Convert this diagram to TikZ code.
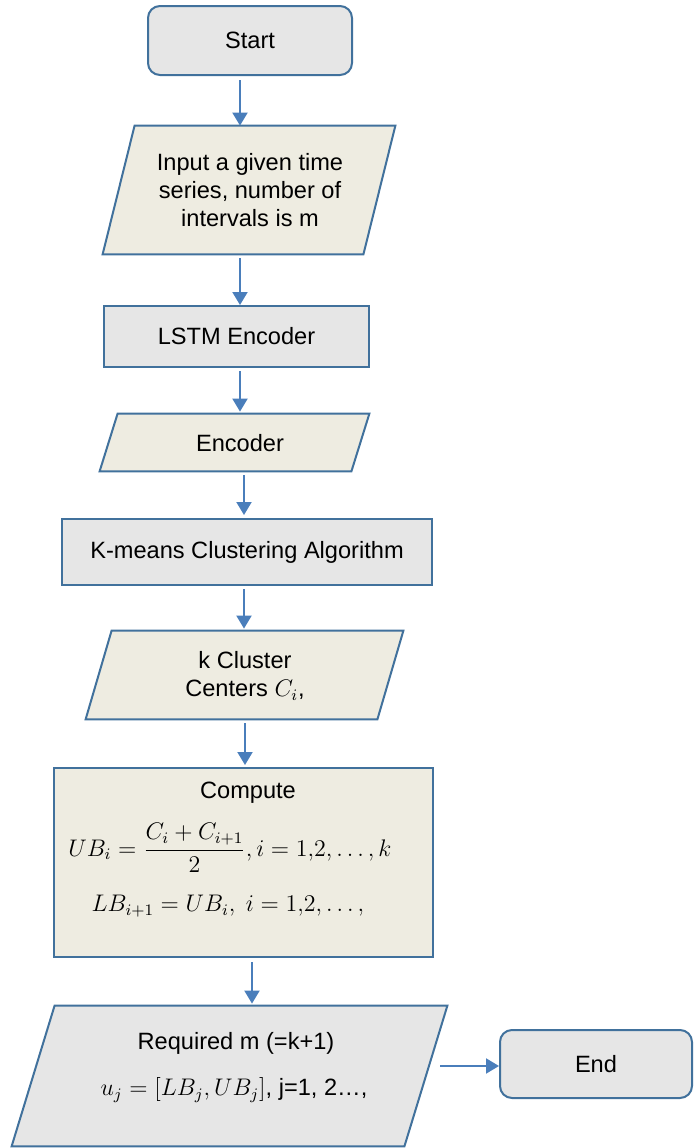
\documentclass[tikz,border=0pt]{standalone}
\usepackage{amsmath}
\usepackage[no-math]{fontspec}
\setmainfont{Liberation Sans}
\usetikzlibrary{arrows.meta,calc}
\definecolor{edge}{HTML}{41719C}
\definecolor{flow}{HTML}{4A7EBB}
\definecolor{greyfill}{HTML}{E6E6E6}
\definecolor{tanfill}{HTML}{EEECE1}
\tikzset{
  base/.style={inner sep=0pt, align=center, font=\fontsize{11.8}{14}\selectfont},
  term/.style={base, draw=edge, line width=1pt, fill=greyfill, rounded corners=6pt},
  proc/.style={base, draw=edge, line width=1pt},
  iobox/.style={base},
  para/.style={draw=edge, line width=1pt},
  arr/.style={draw=flow, line width=1pt, -{Triangle[length=6.5pt,width=7.5pt]}},
  lbl/.style={base}
}
% parallelogram around a node: #1 node name, #2 slant (px), #3 fill
\newcommand{\slantbox}[3]{%
  \path[para,fill=#3] (#1.south west) -- ([xshift=#2*0.5pt]#1.north west)
     -- (#1.north east) -- ([xshift=-#2*0.5pt]#1.south east) -- cycle;}
\begin{document}
\begin{tikzpicture}[x=0.5pt,y=-0.5pt]
\useasboundingbox (0,0) rectangle (693,1148);

% terminals and process boxes
\node[term, minimum width=102pt, minimum height=34.5pt] (start) at (250,40.5) {Start};
\node[proc, fill=greyfill, minimum width=132.5pt, minimum height=30.5pt] (lstm) at (236.5,336.5) {LSTM Encoder};
\node[proc, fill=greyfill, minimum width=185pt, minimum height=33pt] (kmeans) at (247,552) {K-means Clustering Algorithm};
\node[proc, fill=tanfill, minimum width=189.5pt, minimum height=94.5pt] (compute) at (243.5,862.5) {};
\node[term, minimum width=96pt, minimum height=34pt] (end) at (596,1064) {End};

% input / output boxes
\node[iobox, minimum width=146pt, minimum height=64pt] (input) at (249,190) {};
\slantbox{input}{32}{tanfill}
\node[lbl] (inputtxt) at (250,190) {Input a given time\\series, number of\\intervals is m};

\node[iobox, minimum width=134.5pt, minimum height=28.5pt] (enc) at (234.5,442.5) {};
\slantbox{enc}{18}{tanfill}
\node[lbl] (enctxt) at (240,443) {Encoder};

\node[iobox, minimum width=158.5pt, minimum height=44pt] (clus) at (244.5,675) {};
\slantbox{clus}{26}{tanfill}
\node[lbl] (clustxt) at (245,676) {k Cluster\\Centers $C_i$,};

\node[iobox, minimum width=217.5pt, minimum height=70pt] (req) at (229.5,1076) {};
\slantbox{req}{43}{greyfill}
\node[lbl] (reqa) at (236,1043) {Required m (=k+1)};
\node[lbl] (reqb) at (234,1090) {$u_j = [LB_j, UB_j]$, j=1, 2…,};

% contents of the compute box
\node[lbl] (comp0) at (248,793) {Compute};
\node[lbl] (comp1) at (230,848) {$UB_i = \dfrac{C_i + C_{i+1}}{2}, i = 1{,}2, \ldots, k$};
\node[lbl] (comp2) at (228,906) {$LB_{i+1} = UB_i,\; i = 1{,}2, \ldots,$};

% flow connectors
\draw[arr, shorten <=2pt] (start.south -| 240,0) -- (input.north -| 240,0);
\draw[arr, shorten <=2pt] (input.south -| 240,0) -- (lstm.north -| 240,0);
\draw[arr, shorten <=1.5pt] (lstm.south -| 240,0) -- ([yshift=1pt]enc.north -| 240,0);
\draw[arr, shorten <=2pt] (enc.south -| 244,0) -- ([yshift=1.5pt]kmeans.north -| 244,0);
\draw[arr, shorten <=1.5pt] (kmeans.south -| 244,0) -- ([yshift=1pt]clus.north -| 244,0);
\draw[arr, shorten <=2pt] (clus.south -| 245,0) -- ([yshift=1pt]compute.north -| 245,0);
\draw[arr, shorten <=2pt] (compute.south -| 252,0) -- ([yshift=1pt]req.north -| 252,0);
\coordinate (reqout) at (440,1066);
\draw[arr] (reqout) -- (end.west |- reqout);
\end{tikzpicture}
\end{document}
